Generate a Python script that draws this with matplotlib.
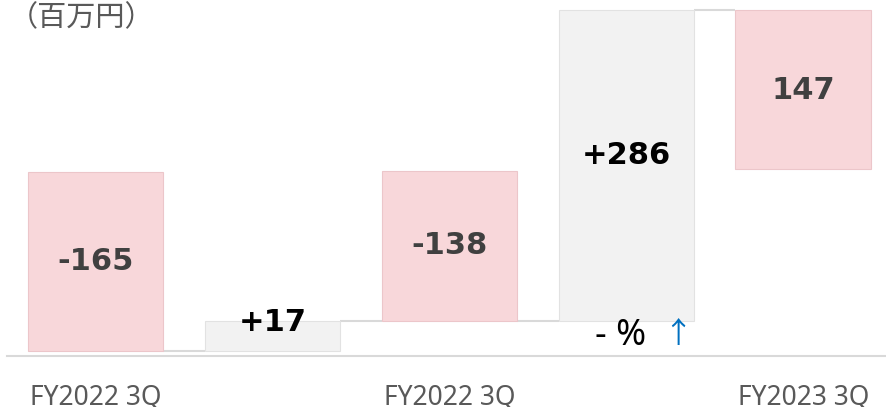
import matplotlib
matplotlib.use("Agg")
import matplotlib.pyplot as plt

# ---- data ----
categories = ["FY2022 3Q", "", "FY2022 3Q", "", "FY2023 3Q"]
value_labels = ["-165", "+17", "-138", "+286", "147"]
span_bottom = [0, 0, 28, 28, 167]      # drawn start level of each bar
span_top = [165, 28, 166, 314, 314]    # drawn end level of each bar
label_level = [82.5, 26, 97, 180, 240]
bar_kind = ["total", "delta", "total", "delta", "total"]
unit_label = "（百万円）"
change_text = "- %"
arrow_text = "↑"

# ---- styles ----
fill = {"total": "#f8d7da", "delta": "#f2f2f2"}
edge = {"total": "#ecc6ca", "delta": "#e2e2e2"}
txtcol = {"total": "#404040", "delta": "#000000"}
W, H = 887, 407
fig = plt.figure(figsize=(W / 100, H / 100), dpi=100)
ax = fig.add_axes([7 / W, 51 / H, 880 / W, 356 / H])
ax.set_xlim(-0.5, 4.472)
ax.set_ylim(-4.6, 322.9)

bw = 0.768
xs = list(range(len(categories)))
for i, x in enumerate(xs):
    k = bar_kind[i]
    ax.bar(x, span_top[i] - span_bottom[i], bottom=span_bottom[i], width=bw,
           color=fill[k], edgecolor=edge[k], linewidth=0.8, zorder=2)
    ax.text(x, label_level[i], value_labels[i], ha="center", va="center",
            fontsize=22, fontweight="bold", color=txtcol[k],
            family="DejaVu Sans", zorder=4)

# connectors
for i in range(len(xs) - 1):
    a = {span_bottom[i], span_top[i]}
    b = {span_bottom[i + 1], span_top[i + 1]}
    common = a & b
    lvl = min(common) if common else span_top[i]
    ax.plot([xs[i] + bw / 2, xs[i + 1] - bw / 2], [lvl, lvl],
            color="#d9d9d9", lw=1.5, zorder=1, solid_capstyle="butt")

for s in ["top", "left", "right"]:
    ax.spines[s].set_visible(False)
ax.spines["bottom"].set_color("#d9d9d9")
ax.spines["bottom"].set_linewidth(1.5)
ax.set_yticks([])
ax.set_xticks(xs)
ax.set_xticklabels(categories, fontsize=19, color="#595959", family="Noto Sans")
ax.tick_params(axis="x", length=0, pad=20)

# change text
ax.text(2.965, 13.8, change_text, ha="center", va="center", fontsize=26,
        color="#000000", family=["Noto Sans", "DejaVu Sans"], zorder=4)
ax.text(3.29, 14.5, arrow_text, ha="center", va="center", fontsize=21,
        color="#0070c0", family=["Noto Sans CJK JP", "DejaVu Sans"], zorder=4)

fig.text(9 / W, 1 - 18 / H, unit_label, ha="left", va="center",
         fontsize=21, color="#595959", family=["Noto Sans CJK JP", "DejaVu Sans"])

fig.savefig("out.png", dpi=100)
